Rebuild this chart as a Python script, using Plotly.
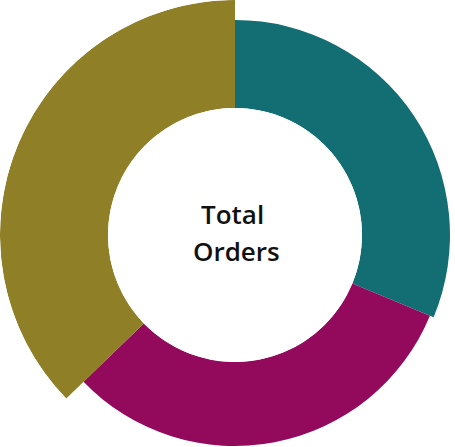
import plotly.graph_objects as go

# Data
categories = ["Segment A", "Segment B", "Segment C"]
orders = [250, 252, 298]          # angular share (total orders)
order_value = [88, 84, 108]       # radial extent
colors = ["#126E72", "#930A5C", "#8F7F26"]

total = sum(orders)
widths = [o / total * 360 for o in orders]
thetas = []
acc = 0
for w in widths:
    thetas.append(acc + w / 2)
    acc += w

W, H = 470, 470

fig = go.Figure()
fig.add_trace(go.Barpolar(
    r=order_value,
    theta=thetas,
    width=widths,
    marker=dict(color=colors, line=dict(width=0)),
    text=categories,
    hoverinfo="text",
    showlegend=False,
))

fig.update_layout(
    width=W, height=H,
    margin=dict(l=0, r=0, t=0, b=0),
    paper_bgcolor="white",
    plot_bgcolor="white",
    polar=dict(
        domain=dict(x=[0, 1], y=[0, 1]),
        hole=127 / 235,
        bgcolor="white",
        bargap=0,
        radialaxis=dict(visible=False, range=[0, max(order_value)]),
        angularaxis=dict(visible=False, rotation=90, direction="clockwise"),
    ),
    annotations=[
        dict(text="Total", x=232.5 / W, y=1 - 214 / H, xref="paper", yref="paper",
             showarrow=False, xanchor="center", yanchor="middle",
             font=dict(family="Open Sans", size=26, color="#111111", weight=600)),
        dict(text="Orders", x=236.5 / W, y=1 - 251 / H, xref="paper", yref="paper",
             showarrow=False, xanchor="center", yanchor="middle",
             font=dict(family="Open Sans", size=26, color="#111111", weight=600)),
    ],
)

fig.write_html("out.html", post_script="document.body.style.overflow='hidden';document.body.style.margin='0';")
